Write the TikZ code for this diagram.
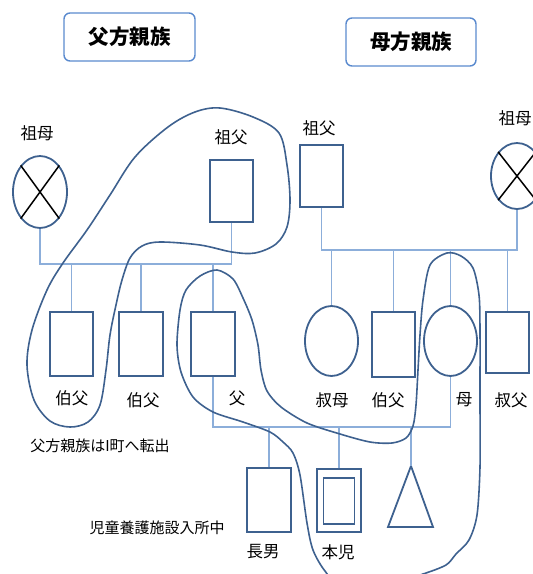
\documentclass[tikz,border=0pt]{standalone}
\usepackage{fontspec}
\newfontfamily\jp{Noto Sans CJK JP}
\usetikzlibrary{shapes.geometric}
\definecolor{shape}{RGB}{62,97,143}
\definecolor{conn}{RGB}{140,174,218}
\definecolor{title}{RGB}{90,138,206}
\tikzset{
  male/.style={draw=shape,line width=1.8pt,rectangle,inner sep=0pt,minimum width=#1},
  fem/.style={draw=shape,line width=1.8pt,ellipse,inner sep=0pt},
  link/.style={draw=conn,line width=1.2pt},
  loopline/.style={draw=shape,line width=1.6pt},
  lbl/.style={font=\jp\fontsize{16.5}{17}\selectfont,inner sep=0pt},
  note/.style={font=\jp\fontsize{15}{16}\selectfont,inner sep=0pt},
  titlebox/.style={draw=title,line width=1.4pt,rounded corners=6pt,minimum width=131pt,minimum height=48pt,font=\jp\bfseries\fontsize{20.5}{22}\selectfont},
  cross/.style={draw=black,line width=1.5pt}
}
\begin{document}
\begin{tikzpicture}[x=1pt,y=-1pt]
\useasboundingbox (0,0) rectangle (533,574);
% titles
\node[titlebox] (t1) at (129.5,37) {父方親族};
\node[titlebox,minimum width=130pt] (t2) at (411,42) {母方親族};

% paternal grandparents
\node[fem,minimum width=54pt,minimum height=72pt] (pgm) at (40,192) {};
\draw[cross] (pgm.126) -- (pgm.-54);
\draw[cross] (pgm.54) -- (pgm.-126);
\node[male=43pt,minimum height=62pt] (pgf) at (231.5,191) {};
\node[lbl] (lpgm) at (37,133) {祖母};
\node[lbl] (lpgf) at (231,137) {祖父};

% paternal children
\node[male=43pt,minimum height=64pt] (u1) at (71.5,344) {};
\node[male=44pt,minimum height=64pt] (u2) at (141,344) {};
\node[male=44pt,minimum height=64pt] (fa) at (213,344) {};
\node[lbl] (lu1) at (72,398) {伯父};
\node[lbl] (lu2) at (143,400) {伯父};
\node[lbl] (lfa) at (237,398) {父};

\coordinate (pbar) at (0,264);
\draw[link] (pgm.south) -- (pgm.south |- pbar) -- (pgf.south |- pbar) -- (pgf.south);
\draw[link] (u1.north) -- (u1.north |- pbar);
\draw[link] (u2.north) -- (u2.north |- pbar);
\draw[link] (fa.north) -- (fa.north |- pbar);

% maternal grandparents
\node[male=43pt,minimum height=62pt] (mgf) at (321.5,176) {};
\node[fem,minimum width=52pt,minimum height=66pt] (mgm) at (517,176) {};
\draw[cross] (mgm.128) -- (mgm.-52);
\draw[cross] (mgm.52) -- (mgm.-128);
\node[lbl] (lmgf) at (319,128) {祖父};
\node[lbl] (lmgm) at (515,118) {祖母};

% maternal children
\node[fem,minimum width=53pt,minimum height=70pt] (ab) at (331.5,341) {};
\node[male=43pt,minimum height=65pt] (u3) at (393.5,344.5) {};
\node[fem,minimum width=53pt,minimum height=70pt] (mo) at (450.5,341) {};
\node[male=43pt,minimum height=61pt] (uy) at (507.5,342.5) {};
\node[lbl] (lab) at (332,400) {叔母};
\node[lbl] (lu3) at (388,400) {伯父};
\node[lbl] (lmo) at (464,400) {母};
\node[lbl] (luy) at (511,400) {叔父};

\coordinate (mbar) at (0,250);
\draw[link] (mgf.south) -- (mgf.south |- mbar) -- (mgm.south |- mbar) -- (mgm.south);
\draw[link] (ab.north) -- (ab.north |- mbar);
\draw[link] (u3.north) -- (u3.north |- mbar);
\draw[link] (mo.north) -- (mo.north |- mbar);
\draw[link] (uy.north) -- (uy.north |- mbar);

% children of father and mother
\node[male=44pt,minimum height=64pt] (son) at (269,500) {};
\node[male=44pt,minimum height=63pt] (self) at (339,500.5) {};
\node[male=31pt,minimum height=46pt] (selfin) at (339,501) {};
\coordinate (tri) at (411,466);
\draw[draw=shape,line width=1.8pt,line join=miter] (tri) -- (433,527) -- (388,527) -- cycle;
\node[lbl] (lson) at (263,552) {長男};
\node[lbl] (lself) at (338,552) {本児};

\coordinate (cbar) at (0,427);
\draw[link] (fa.south) -- (fa.south |- cbar) -- (mo.south |- cbar) -- (mo.south);
\draw[link] (son.north) -- (son.north |- cbar);
\draw[link] (self.north) -- (self.north |- cbar);
\draw[link] (tri) -- (tri |- cbar);

% notes
\node[note] (n1) at (100,446) {父方親族はI町へ転出};
\node[note] (n2) at (157,528) {児童養護施設入所中};

% enclosure 1
\draw[loopline] plot[smooth cycle,tension=0.55] coordinates {
(220,108) (253,117) (279,133) (287,165) (290,200) (287,227) (276,244) (255,253)
(232,252) (200,245) (160,242) (142,246) (130,258) (122,280) (116,305) (110,335)
(106,370) (100,405) (88,422) (70,427) (50,421) (34,400) (27,365) (32,330)
(47,290) (63,263) (87,230) (110,195) (135,157) (168,127) (195,112)};

% enclosure 2
\draw[loopline] plot[smooth cycle,tension=0.5] coordinates {
(217,270) (233,279) (243,298) (252,320) (258,345) (261,370) (267,391) (281,407)
(307,423) (340,434) (370,442) (392,443) (406,438) (413,426) (416,405) (418,370)
(420,335) (423,300) (430,265) (447,253) (461,256) (473,268) (479,295) (480,330)
(480,400) (480,467) (477,515) (469,540) (456,554) (446,565) (423,574) (400,580)
(340,582) (325,571) (313,550) (307,523) (300,475) (293,453) (283,442) (270,432)
(243,422) (213,412) (193,397) (181,372) (177,345) (180,310) (186,290) (200,276)};
\end{tikzpicture}
\end{document}
